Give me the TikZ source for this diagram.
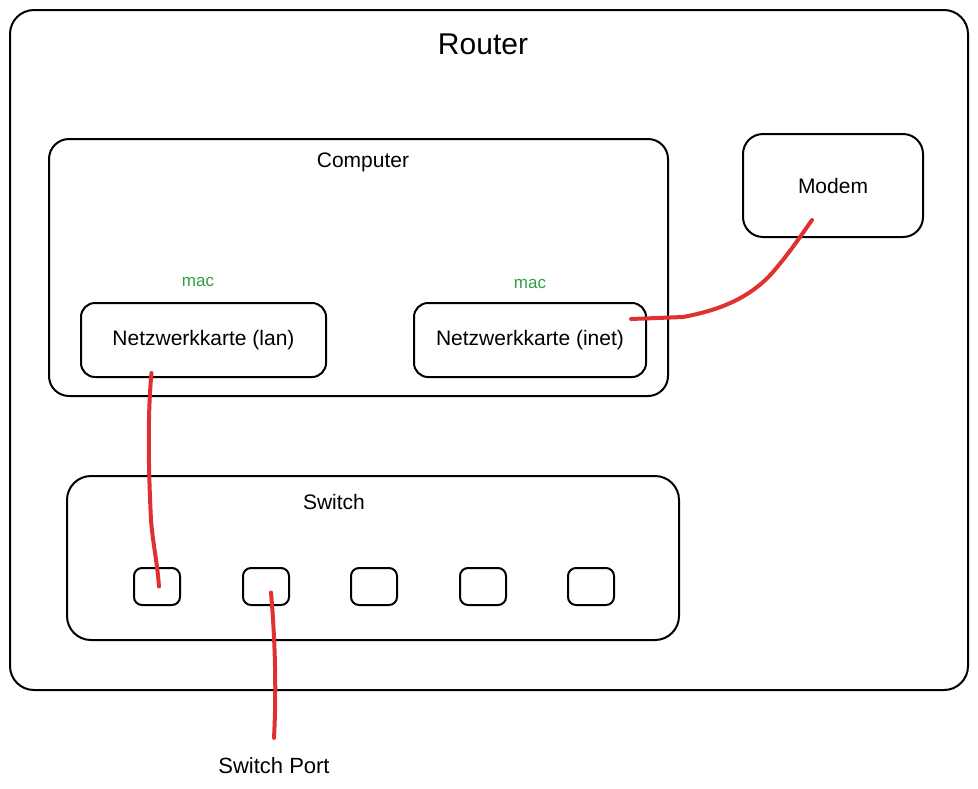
\documentclass[tikz,border=0pt]{standalone}
\usepackage{fontspec}
\setmainfont{Liberation Sans}
\usetikzlibrary{calc}

\definecolor{wirered}{HTML}{E03131}
\definecolor{macgreen}{HTML}{2F9E44}

\begin{document}
\begin{tikzpicture}[x=0.5pt,y=-0.5pt,
    box/.style={draw, line width=1pt, rounded corners=#1, inner sep=0pt},
    box/.default=8pt,
    port/.style={box=4pt, minimum width=23pt, minimum height=18.5pt},
    wire/.style={draw=wirered, line width=2pt, line cap=round, line join=round},
    lbl/.style={font=\fontsize{10.5}{12}\selectfont},
    maclbl/.style={font=\fontsize{8.5}{10}\selectfont, text=macgreen}]
    \useasboundingbox (0,0) rectangle (978,788);

    % Draw the router frame
    \node[box=12pt, minimum width=479pt, minimum height=340pt] (router) at (489,350) {};
    \node[font=\fontsize{15}{18}\selectfont] (routertitle) at (483,44) {Router};

    % Draw the computer with its two network cards
    \node[box=10pt, minimum width=309.5pt, minimum height=128.5pt] (computer) at (358.5,267.5) {};
    \node[lbl] (computertitle) at (363,162) {Computer};
    \node[box=7pt, lbl, minimum width=122.5pt, minimum height=37pt] (lan) at (203.5,340) {Netzwerkkarte (lan)};
    \node[box=7pt, lbl, minimum width=116pt, minimum height=37pt] (inet) at (530,340) {Netzwerkkarte (inet)};
    \node[maclbl] (maclan) at (198,282) {mac};
    \node[maclbl] (macinet) at (530,284) {mac};

    % Draw the modem
    \node[box=10pt, lbl, minimum width=90pt, minimum height=51.5pt] (modem) at (833,185.5) {Modem};

    % Draw the switch and its ports
    \node[box=12pt, minimum width=306pt, minimum height=82pt] (switch) at (373,558) {};
    \node[lbl] (switchtitle) at (334,502) {Switch};
    \foreach \i/\x in {1/157, 2/266, 3/374, 4/483, 5/591}
        \node[port] (port\i) at (\x,586.5) {};
    \node[lbl, font=\fontsize{11}{13}\selectfont] (sp) at (274,766) {Switch Port};

    % Draw the cables
    \coordinate (lanplug) at (151.5,373);
    \coordinate (inetplug) at (631,319);
    \coordinate (modemplug) at (812,220);
    \draw[wire] (lanplug) .. controls (147,420) and (149,480) .. (151,520)
        .. controls (153,545) and (157,560) .. ([xshift=1pt]port1.center);
    \draw[wire] ([xshift=2.5pt,yshift=-3pt]port2.center) .. controls (276,650) and (276,700) .. ([yshift=6.5pt]sp.north);
    \draw[wire] (inetplug) -- (683,317) .. controls (720,310) and (750,298) .. (773,272)
        .. controls (790,252) and (800,237) .. (modemplug);
\end{tikzpicture}
\end{document}
